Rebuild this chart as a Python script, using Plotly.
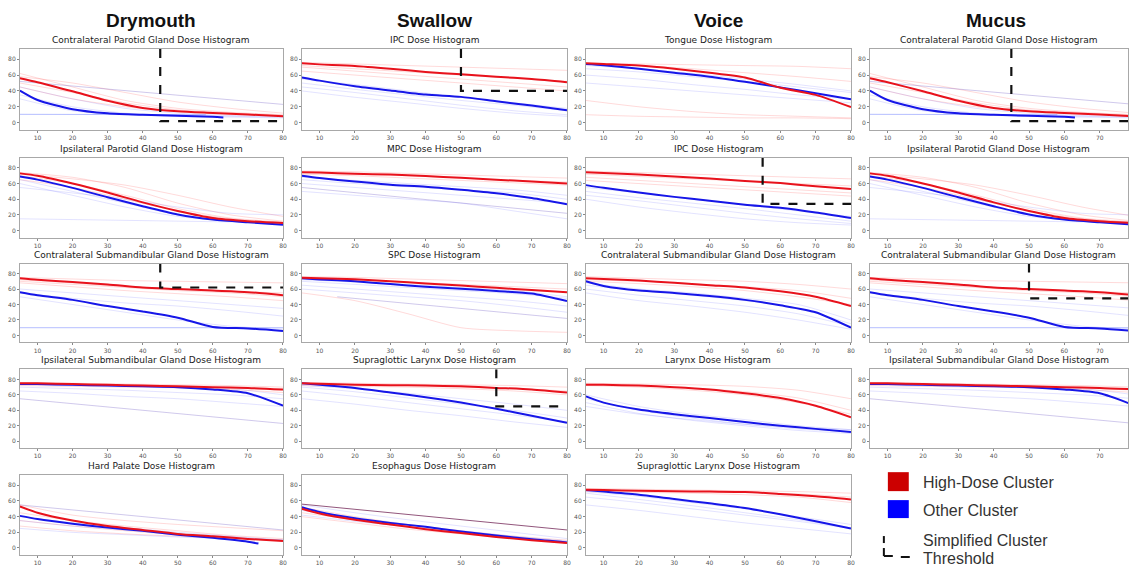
import plotly.graph_objects as go

W, H = 1132, 566

# ---------------- data ----------------
X_MEAN = [5, 10, 20, 30, 40, 50, 60, 70, 80]
X_FAINT = [5, 20, 35, 50, 65, 80]

COLUMN_HEADERS = ["Drymouth", "Swallow", "Voice", "Mucus"]

# Drymouth
D1_title = "Contralateral Parotid Gland Dose Histogram"
D1_red = [56, 51, 39.5, 27.5, 18.5, 14.3, 12.2, 10.2, 8]
D1_blue_x = [5, 10, 20, 30, 40, 50, 60, 63]
D1_blue = [40.5, 28.6, 17, 11.8, 9.8, 8.6, 7.3, 6.5]
D1_red_faint = [[62, 45, 28, 18, 13, 10], [50, 38, 25, 16, 12, 9], [45, 30, 20, 14, 11, 9], [58, 50, 38, 26, 18, 12]]
D1_blue_faint = [[35, 20, 12, 9, 8, 7], [45, 30, 18, 12, 9, 8], [30, 15, 10, 8, 7, 6]]
D1_special_blue = ([5, 58], [10.5, 10])
D1_special_purple = ([5, 80], [52, 23])

D2_title = "Ipsilateral Parotid Gland Dose Histogram"
D2_red = [73, 70, 60, 48.5, 36, 25, 16, 12, 9.5]
D2_blue = [69, 65, 54.5, 42.5, 31, 20.5, 14, 10.5, 7.5]
D2_red_faint = [[74, 68, 55, 35, 20, 12], [70, 60, 45, 28, 16, 11], [65, 55, 40, 25, 15, 10], [72, 66, 58, 45, 30, 18]]
D2_blue_faint = [[65, 50, 35, 20, 12, 9], [60, 45, 30, 18, 12, 8], [55, 48, 40, 30, 22, 20], [15, 14, 13, 12, 11, 10]]

D3_title = "Contralateral Submandibular Gland Dose Histogram"
D3_red = [74, 72, 69, 66, 62, 60, 58, 56, 52]
D3_blue = [56, 52, 46, 38, 31, 23, 11, 9, 5.7]
D3_red_faint = [[75, 73, 71, 70, 69, 68], [72, 68, 63, 60, 57, 55], [70, 66, 62, 58, 55, 50], [68, 63, 58, 54, 50, 45]]
D3_blue_faint = [[60, 55, 50, 45, 40, 35], [55, 48, 42, 38, 32, 25], [50, 40, 30, 20, 12, 8]]
D3_special_blue = ([5, 80], [10, 10])

D4_title = "Ipsilateral Submandibular Gland Dose Histogram"
D4_red = [75, 75, 74, 73, 72, 71, 70, 69, 67]
D4_blue = [74, 74, 73, 72, 71, 70, 67, 62, 46]
D4_red_faint = [[76, 75, 74, 73, 72, 70], [74, 73, 72, 71, 69, 66], [72, 71, 70, 69, 67, 63]]
D4_blue_faint = [[73, 72, 71, 70, 68, 60], [70, 68, 66, 63, 60, 55], [65, 62, 58, 55, 50, 45]]
D4_special_purple = ([5, 80], [55, 23])

D5_title = "Hard Palate Dose Histogram"
D5_red = [53, 45, 35, 28, 23, 18, 15, 11.6, 8.8]
D5_blue_x = [5, 10, 20, 30, 40, 50, 60, 70, 73]
D5_blue = [41, 37, 31, 26, 22, 17, 13, 8, 5.6]
D5_red_faint = [[55, 42, 35, 30, 26, 22], [45, 35, 28, 22, 16, 12], [35, 28, 22, 17, 13, 10], [28, 22, 18, 15, 12, 10]]
D5_blue_faint = [[40, 32, 26, 20, 15, 10], [35, 28, 23, 18, 14, 10], [25, 20, 17, 14, 12, 10]]
D5_special_purple = ([5, 80], [55, 23])

# Swallow
S1_title = "IPC Dose Histogram"
S1_red = [74.8, 73.5, 71.5, 68, 64, 61, 58, 55, 51]
S1_blue = [57, 53, 46, 40.6, 35.4, 32.5, 27, 21.5, 15.5]
S1_red_faint = [[76, 74, 72, 70, 68, 66], [72, 68, 64, 60, 56, 52], [70, 65, 60, 55, 50, 45], [65, 60, 55, 50, 45, 40]]
S1_blue_faint = [[55, 48, 40, 32, 25, 18], [50, 42, 35, 28, 22, 15], [45, 38, 30, 22, 15, 10], [40, 32, 25, 18, 12, 8]]

S2_title = "MPC Dose Histogram"
S2_red = [74.5, 74, 72.5, 71.5, 69.5, 67.5, 65, 62.5, 60]
S2_blue = [70, 67, 62.5, 58.5, 56, 52, 47.5, 41.5, 33.5]
S2_red_faint = [[76, 75, 73, 71, 69, 67], [74, 72, 70, 67, 64, 62], [72, 70, 67, 64, 61, 58]]
S2_blue_faint = [[68, 64, 60, 56, 52, 45], [65, 60, 56, 52, 48, 40], [60, 55, 50, 45, 40, 35], [50, 45, 40, 35, 25, 15]]
S2_special_purple = ([5, 80], [55, 22])

S3_title = "SPC Dose Histogram"
S3_red = [74.7, 74, 72.6, 70, 67.3, 64.5, 61.6, 58.8, 56]
S3_blue = [74, 72.5, 70, 66.5, 63, 60.4, 57.5, 54.3, 44.5]
S3_red_faint = [[76, 75, 73, 71, 69, 67], [73, 71, 69, 66, 63, 60], [55, 45, 28, 10, 6, 4]]
S3_blue_faint = [[72, 69, 66, 62, 58, 50], [70, 66, 62, 58, 54, 48], [65, 60, 55, 50, 45, 38], [60, 55, 50, 45, 38, 30]]
S3_special_purple = ([15, 80], [50, 22])

S4_title = "Supraglottic Larynx Dose Histogram"
S4_red = [75, 74.5, 73, 72.5, 72, 71, 69, 67, 63]
S4_blue = [75, 73, 69, 63, 57, 50, 42, 33, 24]
S4_red_faint = [[76, 75, 74, 73, 72, 70], [74, 73, 72, 70, 68, 65], [72, 71, 70, 68, 65, 60]]
S4_blue_faint = [[72, 68, 62, 55, 48, 40], [70, 64, 56, 48, 40, 30], [65, 58, 50, 42, 34, 25], [55, 48, 40, 33, 25, 18]]

S5_title = "Esophagus Dose Histogram"
S5_red = [50, 44, 36, 30, 24, 19, 14, 10, 6.5]
S5_blue = [52, 46, 38, 32, 27, 21, 16, 11, 7]
S5_red_faint = [[52, 40, 30, 22, 15, 10], [45, 36, 28, 20, 14, 8], [40, 32, 24, 18, 12, 7]]
S5_blue_faint = [[55, 45, 36, 28, 20, 12], [48, 38, 30, 22, 15, 9], [42, 34, 27, 20, 14, 8]]
S5_special_dark = ([5, 80], [56, 23])

# Voice
V1_title = "Tongue Dose Histogram"
V1_red = [75, 74, 72, 68, 63, 57, 44, 35, 19.5]
V1_blue = [74, 72.5, 68, 63, 58, 51.5, 44.5, 37, 29.5]
V1_red_faint = [[75, 74, 73, 72, 71, 68], [74, 72, 68, 63, 58, 52], [28, 20, 14, 10, 8, 6], [10, 8, 7, 6, 6, 5]]
V1_blue_faint = [[72, 68, 62, 55, 48, 40], [68, 64, 58, 52, 45, 38], [60, 55, 48, 42, 35, 30], [50, 45, 40, 35, 30, 25]]

V2_title = "IPC Dose Histogram"
V2_red = [74.3, 73.5, 71.5, 69, 66.3, 63.4, 60.6, 56.6, 53]
V2_blue = [58, 54.5, 48.5, 43, 38, 33, 29, 23, 16]
V2_red_faint = [[76, 74, 72, 70, 68, 66], [72, 69, 66, 63, 60, 57], [68, 64, 60, 56, 52, 48], [64, 60, 56, 52, 48, 44]]
V2_blue_faint = [[55, 48, 40, 33, 25, 18], [50, 42, 35, 28, 20, 12], [45, 38, 30, 22, 15, 9], [40, 30, 22, 15, 10, 7]]

V3_title = "Contralateral Submandibular Gland Dose Histogram"
V3_red = [74, 73, 71, 68, 65, 62, 57, 50, 38]
V3_blue = [70, 64, 58, 55, 51, 46, 39, 30, 10]
V3_red_faint = [[76, 74, 72, 70, 66, 60], [72, 70, 67, 63, 58, 48], [70, 67, 63, 58, 50, 40]]
V3_blue_faint = [[68, 60, 55, 48, 40, 20], [65, 58, 52, 45, 35, 15], [60, 52, 45, 38, 28, 12], [55, 45, 38, 30, 20, 8]]

V4_title = "Larynx Dose Histogram"
V4_red = [73, 73, 72, 70, 67, 62, 56, 46, 31]
V4_blue = [58, 50, 41, 35, 30, 25, 20, 16, 12]
V4_red_faint = [[75, 74, 73, 71, 66, 55], [74, 72, 69, 64, 56, 40], [72, 70, 66, 60, 50, 35]]
V4_blue_faint = [[60, 45, 35, 28, 20, 15], [55, 40, 30, 22, 16, 12], [50, 36, 27, 20, 14, 10], [45, 35, 28, 22, 18, 15]]

V5_title = "Supraglottic Larynx Dose Histogram"
V5_red = [74.3, 74, 73, 72.5, 72, 71.5, 69, 66, 62]
V5_blue = [74, 72, 68, 62.6, 57, 51, 43, 34, 25]
V5_red_faint = [[76, 75, 74, 73, 72, 70], [74, 73, 72, 71, 69, 65], [72, 71, 70, 68, 65, 58]]
V5_blue_faint = [[72, 66, 58, 50, 40, 30], [70, 62, 54, 45, 36, 26], [65, 58, 50, 42, 34, 25], [55, 48, 40, 32, 25, 18]]

# thresholds (dose, percent)
D1_threshold = (45, 2)
D3_threshold = (45, 62)
S1_threshold = (50, 40)
S4_threshold = (60, 45)
V2_threshold = (55, 34)
M1_threshold = (45, 2)
M3_threshold = (50, 48)

LEGEND_LABELS = ["High-Dose Cluster", "Other Cluster", "Simplified Cluster", "Threshold"]

# ---------------- layout geometry (pixels) ----------------
COLS = [(20, 284), (303, 569), (588, 854), (873, 1132)]
ROWS = [(49, 130), (158, 238), (264, 343), (370, 449), (476, 556)]
XMAX = [80, 80, 80, 78]
YR = [-9, 93]

RED = "rgb(232,18,28)"
BLUE = "rgb(22,22,232)"
RED_F = "rgba(255,70,70,0.2)"
BLUE_F = "rgba(80,80,255,0.16)"
PURPLE_F = "rgba(120,100,200,0.35)"
LBLUE_F = "rgba(90,110,255,0.45)"
DARK_P = "rgba(110,30,80,0.75)"

panels = [
    # row, col, title, red, blue, blue_x, red_f, blue_f, specials, threshold
    (0, 0, D1_title, D1_red, D1_blue, D1_blue_x, D1_red_faint, D1_blue_faint,
     [(D1_special_blue, LBLUE_F), (D1_special_purple, PURPLE_F)], D1_threshold),
    (1, 0, D2_title, D2_red, D2_blue, None, D2_red_faint, D2_blue_faint, [], None),
    (2, 0, D3_title, D3_red, D3_blue, None, D3_red_faint, D3_blue_faint,
     [(D3_special_blue, LBLUE_F)], D3_threshold),
    (3, 0, D4_title, D4_red, D4_blue, None, D4_red_faint, D4_blue_faint,
     [(D4_special_purple, PURPLE_F)], None),
    (4, 0, D5_title, D5_red, D5_blue, D5_blue_x, D5_red_faint, D5_blue_faint,
     [(D5_special_purple, PURPLE_F)], None),
    (0, 1, S1_title, S1_red, S1_blue, None, S1_red_faint, S1_blue_faint, [], S1_threshold),
    (1, 1, S2_title, S2_red, S2_blue, None, S2_red_faint, S2_blue_faint,
     [(S2_special_purple, PURPLE_F)], None),
    (2, 1, S3_title, S3_red, S3_blue, None, S3_red_faint, S3_blue_faint,
     [(S3_special_purple, PURPLE_F)], None),
    (3, 1, S4_title, S4_red, S4_blue, None, S4_red_faint, S4_blue_faint, [], S4_threshold),
    (4, 1, S5_title, S5_red, S5_blue, None, S5_red_faint, S5_blue_faint,
     [(S5_special_dark, DARK_P)], None),
    (0, 2, V1_title, V1_red, V1_blue, None, V1_red_faint, V1_blue_faint, [], None),
    (1, 2, V2_title, V2_red, V2_blue, None, V2_red_faint, V2_blue_faint, [], V2_threshold),
    (2, 2, V3_title, V3_red, V3_blue, None, V3_red_faint, V3_blue_faint, [], None),
    (3, 2, V4_title, V4_red, V4_blue, None, V4_red_faint, V4_blue_faint, [], None),
    (4, 2, V5_title, V5_red, V5_blue, None, V5_red_faint, V5_blue_faint, [], None),
    (0, 3, D1_title, D1_red, D1_blue, D1_blue_x, D1_red_faint, D1_blue_faint,
     [(D1_special_blue, LBLUE_F), (D1_special_purple, PURPLE_F)], M1_threshold),
    (1, 3, D2_title, D2_red, D2_blue, None, D2_red_faint, D2_blue_faint, [], None),
    (2, 3, D3_title, D3_red, D3_blue, None, D3_red_faint, D3_blue_faint,
     [(D3_special_blue, LBLUE_F)], M3_threshold),
    (3, 3, D4_title, D4_red, D4_blue, None, D4_red_faint, D4_blue_faint,
     [(D4_special_purple, PURPLE_F)], None),
]

fig = go.Figure()
layout = dict(
    width=W, height=H, margin=dict(l=0, r=0, t=0, b=0),
    paper_bgcolor="white", plot_bgcolor="white", showlegend=False,
    annotations=[], shapes=[],
)


def lines(xs, ys, ax, color, width, dash=None, shape="spline"):
    ln = dict(color=color, width=width, shape=shape)
    if shape == "spline":
        ln["smoothing"] = 0.7
    if dash:
        ln["dash"] = dash
    return go.Scatter(x=xs, y=ys, xaxis="x" + ax, yaxis="y" + ax, mode="lines",
                      line=ln, hoverinfo="skip", showlegend=False)


for i, (r, c, title, red, blue, blue_x, red_f, blue_f, specials, thr) in enumerate(panels):
    n = i + 1
    ax = "" if n == 1 else str(n)
    x0, x1 = COLS[c]
    y0, y1 = ROWS[r]
    xmax = XMAX[c]
    axis_common = dict(showline=True, mirror=True, linecolor="#a8a8a8", linewidth=1,
                       showgrid=False, zeroline=False, ticks="outside", ticklen=2,
                       tickcolor="#888", tickfont=dict(size=6, color="#555", family="DejaVu Sans"))
    layout["xaxis" + ax] = dict(domain=[x0 / W, x1 / W], range=[5, xmax], anchor="y" + ax,
                                tickvals=[10, 20, 30, 40, 50, 60, 70, 80], **axis_common)
    layout["yaxis" + ax] = dict(domain=[1 - y1 / H, 1 - y0 / H], range=YR, anchor="x" + ax,
                                tickvals=[0, 20, 40, 60, 80], **axis_common)
    layout["annotations"].append(dict(
        x=(x0 + min(x1, 1132)) / 2 / W, y=1 - (y0 - 2) / H, xref="paper", yref="paper",
        text=title, showarrow=False, xanchor="center", yanchor="bottom",
        font=dict(size=9, color="#1a1a1a", family="DejaVu Sans")))

    for f in red_f:
        fig.add_trace(lines(X_FAINT, f, ax, RED_F, 1))
    for f in blue_f:
        fig.add_trace(lines(X_FAINT, f, ax, BLUE_F, 1))
    for (sx, sy), col in specials:
        fig.add_trace(lines(sx, sy, ax, col, 1, shape="linear"))
    fig.add_trace(lines(blue_x if blue_x else X_MEAN, blue, ax, BLUE, 2))
    fig.add_trace(lines(X_MEAN, red, ax, RED, 2))
    if thr:
        tx, ty = thr
        fig.add_trace(lines([tx, tx, xmax], [YR[1], ty, ty], ax, "#111", 2.2,
                            dash="dash", shape="linear"))

# column headers
for c, name in enumerate(COLUMN_HEADERS):
    x0, x1 = COLS[c]
    cx = (x0 + x1) / 2 if c < 3 else 1000
    layout["annotations"].append(dict(
        x=cx / W, y=1 - 21 / H, xref="paper", yref="paper", text="<b>%s</b>" % name,
        showarrow=False, xanchor="center", yanchor="middle",
        font=dict(size=19, color="#111", family="Arial, Liberation Sans")))


# legend (drawn in empty bottom-right cell)
def pr(x0, y0, x1, y1, **kw):
    d = dict(type="rect", xref="paper", yref="paper",
             x0=x0 / W, x1=x1 / W, y0=1 - y1 / H, y1=1 - y0 / H, line=dict(width=0))
    d.update(kw)
    return d


def pl(xa, ya, xb, yb):
    return dict(type="line", xref="paper", yref="paper", x0=xa / W, x1=xb / W,
                y0=1 - ya / H, y1=1 - yb / H, line=dict(color="#111", width=2))


layout["shapes"] += [
    pr(891, 473, 912, 492, fillcolor="#cc0000"),
    pr(891, 501, 912, 519, fillcolor="#0000ff"),
    pl(887, 537, 887, 544),
    pl(887, 549, 887, 557),
    pl(887, 557, 896, 557),
    pl(904, 558, 913, 558),
]
for txt, ty in zip(LEGEND_LABELS, [483, 511, 541, 559]):
    layout["annotations"].append(dict(
        x=924 / W, y=1 - ty / H, xref="paper", yref="paper", text=txt, showarrow=False,
        xanchor="left", yanchor="middle",
        font=dict(size=16, color="#333", family="Arial, Liberation Sans")))

fig.update_layout(**layout)
fig.write_html("out.html", config={"displayModeBar": False},
               post_script="document.body.style.margin='0px';")
